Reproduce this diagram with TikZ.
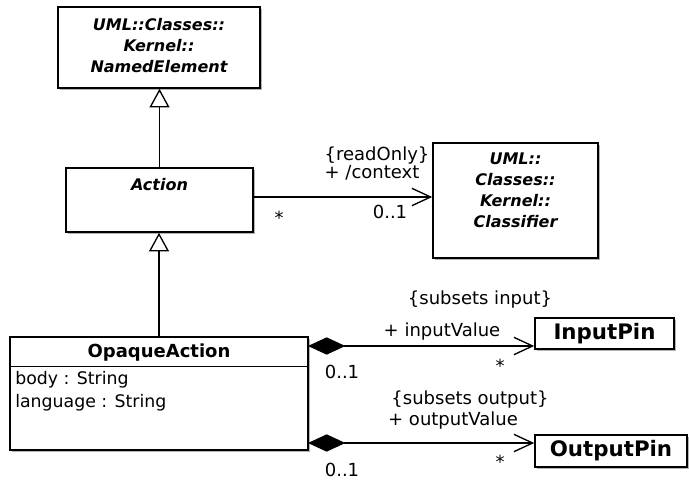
\documentclass[tikz,border=0pt]{standalone}
\usepackage{fontspec}
\setmainfont{DejaVu Sans}
\usetikzlibrary{positioning}
\usetikzlibrary{arrows.meta}
\usetikzlibrary{shadows}

\begin{document}
\begin{tikzpicture}[
    x=0.75pt, y=-0.75pt,
    cls/.style={
        draw, line width=1.2pt, fill=white, inner sep=0pt,
        drop shadow={shadow xshift=1.3pt, shadow yshift=-1.3pt,
                     fill=black!50, opacity=0.6}
    },
    umlname/.style={font=\fontsize{12}{15.75}\selectfont\bfseries\itshape, align=center},
    pin/.style={cls, font=\fontsize{16}{18}\selectfont\bfseries},
    gen/.style={-{Triangle[open, length=14pt, width=15pt, fill=white]}, line width=1pt},
    nav/.style={-{Straight Barb[length=14pt, width=13pt]}, line width=1pt},
    comp/.style={{Diamond[length=28pt, width=13pt]}-{Straight Barb[length=14pt, width=13pt]}, line width=1pt},
    lbl/.style={font=\fontsize{13.5}{15}\selectfont, inner sep=0pt},
    attr/.style={font=\fontsize{13}{15}\selectfont, anchor=west, inner sep=0pt},
]
\useasboundingbox (0,0) rectangle (689,481);

% Classes
\node[cls, minimum width=151.5pt, minimum height=60.75pt] (named) at (159,47.5) {};
\node[umlname] (namedtxt) at (159,46) {UML::Classes::\\Kernel::\\NamedElement};

\node[cls, minimum width=140.25pt, minimum height=48pt] (action) at (159.5,200) {};
\node[umlname] (actiontxt) at (159.5,185) {Action};

\node[cls, minimum width=123.75pt, minimum height=86.25pt] (classifier) at (515.5,200.5) {};
\node[umlname] (classifiertxt) at (515.5,190) {UML::\\Classes::\\Kernel::\\Classifier};

\node[cls, minimum width=223.5pt, minimum height=84.75pt] (opaque) at (159,393.5) {};
\node[font=\fontsize{13.5}{15}\selectfont\bfseries] (opaquetxt) at (159,353) {OpaqueAction};
\draw[line width=1pt] (opaque.north west) ++(0,30) -- ++(298,0);
\node[attr] (body) at (15,380) {body : String};
\node[attr] (lang) at (15,403) {language : String};

% Pins
\node[pin, minimum width=104.25pt, minimum height=23.25pt] (inpin) at (604.5,333.5) {InputPin};
\node[pin, minimum width=114pt, minimum height=24pt] (outpin) at (611,451) {OutputPin};

% Generalizations
\draw[gen] (action.north) -- (action.north |- named.south);
\draw[gen] (opaque.north) -- (opaque.north |- action.south);

% Context association
\coordinate (ctx) at (253,197);
\draw[nav] (ctx) -- (ctx -| classifier.west);
\node[lbl] (ro)   at (377,156) {\{readOnly\}};
\node[lbl] (ctxname) at (372,173) {+ /context};
\node[lbl] (ctxm) at (390,212) {0..1};
\node[lbl] (ctxs) at (279,218) {*};

% Compositions
\coordinate (inA) at (308,346);
\coordinate (outA) at (308,443);
\draw[comp] (inA) -- (inA -| inpin.west);
\draw[comp] (outA) -- (outA -| outpin.west);

\node[lbl] (insub)  at (480,300) {\{subsets input\}};
\node[lbl] (inname) at (442,332) {+ inputValue};
\node[lbl] (inm)    at (342,372) {0..1};
\node[lbl] (ins)    at (500,366) {*};

\node[lbl] (outsub)  at (470,400) {\{subsets output\}};
\node[lbl] (outname) at (453,421) {+ outputValue};
\node[lbl] (outm)    at (342,470) {0..1};
\node[lbl] (outs)    at (500,462) {*};

\end{tikzpicture}
\end{document}
